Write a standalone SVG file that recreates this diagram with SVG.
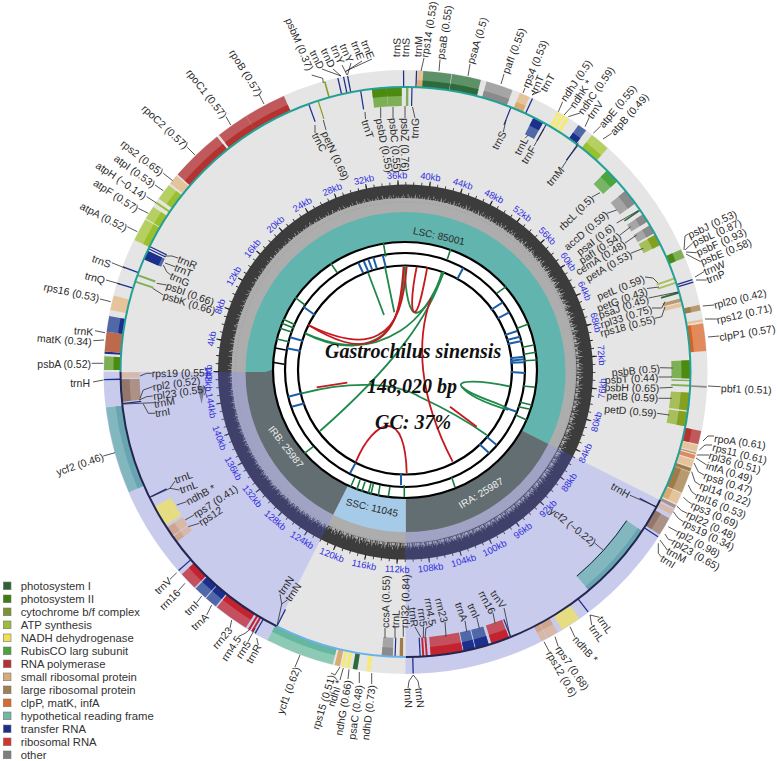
<svg xmlns="http://www.w3.org/2000/svg" width="777" height="761" viewBox="0 0 777 761">
<style>
circle{cx:405.5px;cy:372px;fill:none}
.o{r:293.25px;stroke-width:16.5px}.od{r:288.5px;stroke-width:7px}.i{r:275.5px;stroke-width:19px}.id{r:280.5px;stroke-width:9px}
.psi{stroke:#5f9168}.psiD{stroke:#2d6b3c}.psii{stroke:#7daf55}.psiiD{stroke:#4c8a10}.cyt{stroke:#a6bf5a}.cytD{stroke:#84a01e}.atp{stroke:#b5cf60}.atpD{stroke:#9bc02e}
.ndh{stroke:#f3ea7a}.ndhI{stroke:#e6dc82}.rub{stroke:#76b564}.rubD{stroke:#4aa53c}.pol{stroke:#c0595c}.polD{stroke:#b5322f}.sm{stroke:#e6c49b}.smD{stroke:#d9ab72}.smI{stroke:#d8b8a6}.smID{stroke:#cfa590}
.lg{stroke:#b89a70}.lgD{stroke:#a07b45}.lgI{stroke:#ac9186}.lgID{stroke:#94776a}.clp{stroke:#e38a5d}.clpD{stroke:#d8621f}.mat{stroke:#bd6a4c}.ycf{stroke:#8ccab5}.ycfD{stroke:#67b69f}.ycfI{stroke:#82b7c0}.ycfID{stroke:#68a5b1}
.t{stroke:#5068a8}.tD{stroke:#1c2f8d}.r{stroke:#c4505e}.rD{stroke:#c4222f}.ot{stroke:#a5a5a5}.otD{stroke:#8a8a8a}
text{font-family:"Liberation Sans",Arial,sans-serif;fill:#2b2b2b;font-size:10.5px;dominant-baseline:central}
.e{text-anchor:end}
.kb{fill:#3030e0;font-size:9.4px;text-anchor:middle}
.title{font-family:"Liberation Serif","Times New Roman",serif;font-weight:bold;font-style:italic;font-size:20px;fill:#111;dominant-baseline:auto}
.reg{font-size:10px;text-anchor:middle}
.lgd{font-size:11.3px;fill:#333}
.lr{fill:none;stroke:#2b2b2b;stroke-width:.8}
.gt{stroke:#1a7a3f;stroke-width:1.6}.bt{stroke:#1f5ea8;stroke-width:2}.kt{stroke:#000;stroke-width:1.6}
.gl{fill:none;stroke:#1f8a4c;stroke-width:1.8}.rl{fill:none;stroke:#c8181e;stroke-width:1.8}
</style>
<circle id="backdrop" r="302" style="fill:#e5e5e5"/>
<g id="gc-rings">
<circle r="187.5" style="fill:#3c3c3c"/>
<circle r="172.5" style="fill:#adadad;cx:404px;cy:370.5px"/>
<circle r="172.5" stroke="#adadad" stroke-width="2.5" stroke-dasharray="1.2 .7 .6 1.6 2 .7 .9 1.1 3 .6"/>
<circle r="174.5" stroke="#adadad" stroke-width="2.5" stroke-dasharray=".7 1.9 .6 2.6 1.1 1.7 .5 4"/>
<circle r="176.5" stroke="#adadad" stroke-width="2.5" stroke-dasharray=".5 4.3 .8 7 .6 3.2 .5 9"/>
<circle r="170" stroke="#8f8f8f" stroke-width=".6" stroke-dasharray="1 2"/>
<circle r="188.5" stroke="#222" stroke-width="3" pathLength="148.02" stroke-dasharray=".1 .9" transform="rotate(180 405.5 372)"/>
<circle r="189.5" stroke="#222" stroke-width="5" pathLength="148.02" stroke-dasharray=".14 3.86" transform="rotate(180 405.5 372)"/>
</g>
<g id="ir-sectors" fill="#888ffc" fill-opacity=".3">
<path d="M675.3,507.7A302,302 0 0 1 405.5,674V531A159,159 0 0 0 547.5,443.4Z"/>
<path d="M268.9,641.3A302,302 0 0 1 103.5,372H246.5A159,159 0 0 0 333.6,513.8Z"/>
</g>
<circle r="181.5" stroke="#20205a" stroke-opacity=".35" stroke-width="12" pathLength="360" stroke-dasharray="63.2 360" stroke-dashoffset="-26.7"/>
<circle r="181.5" stroke="#20205a" stroke-opacity=".35" stroke-width="12" pathLength="360" stroke-dasharray="63.1 360" stroke-dashoffset="-116.9"/>
<g id="regions">
<circle r="140" stroke="#62b4ae" stroke-width="40" pathLength="360" stroke-dasharray="180 360" stroke-dashoffset="-180"/>
<circle r="140" stroke="#62b4ae" stroke-width="40" pathLength="360" stroke-dasharray="26.7 360"/>
<circle r="140" stroke="#636e72" stroke-width="40" pathLength="360" stroke-dasharray="63.2 360" stroke-dashoffset="-26.7"/>
<circle r="140" stroke="#a5cbe8" stroke-width="40" pathLength="360" stroke-dasharray="27 360" stroke-dashoffset="-89.9"/>
<circle r="140" stroke="#636e72" stroke-width="40" pathLength="360" stroke-dasharray="63.1 360" stroke-dashoffset="-116.9"/>
</g>
<g id="inner-rings" stroke="#000" stroke-width="2.2">
<ellipse cx="405" cy="370" rx="132" ry="128" fill="#fff"/>
<ellipse cx="405" cy="370" rx="120" ry="117" fill="#fff"/>
<ellipse cx="405" cy="370" rx="107" ry="104.5" fill="#fff"/>
</g>
<g id="ring-ticks">
<path class="gt" d="M383.3,242.3L385.7,256.7M330.7,263.3L337.3,272.7M295,297.3L305,305M283.3,319.3L295.7,325M281.7,323.3L294.3,328.3M280,328.3L292.3,332.3M276.7,339L289,341.7M450.7,249L447.3,259.3M506,286.7L496.7,293.3M528.3,324L517.3,328.3M534,345L522.3,347.3M535.7,352.3L524,354.3M536.7,360L524,360.7M535,387.3L523.3,386M531.7,405L520,402.3M530,409.3L518.3,406.7M526.7,420L515.7,415M455,487.3L451.7,477.3M404.3,497.3L404.3,485M313.3,446.7L304.3,453.3M355,477L350.7,486.7M360,480L356.7,490M365,481.7L361.7,491.7M371,483.3L368.3,493.3M373.3,484L371,494M380,485L378.3,495.7M390,486.7L388.3,496.7"/>
<path class="kt" d="M274,347.7L285.7,350M272.3,362.3L284.3,364.3"/>
<path class="bt" d="M382.7,255L385.7,266.7M373.3,257.3L376.7,268.3M368.3,259.3L372.3,270M363.7,261L368.3,271.7M358.3,262.7L363.3,273.3M303.3,306.7L315,315M290,337.3L303.3,341M286.7,348.3L301,351M463.3,267.7L457.3,279M502.7,302.3L490.7,310M509.3,312.3L497.7,318.3M517.3,331L505,335M520,336.7L506.7,340M521.7,341L507.3,344M524.3,356.7L510,358.3M524.3,359.3L510,360.7M524.3,362.3L510,362.7M525,373L510.7,372M516.7,411.7L504,407.3M496.7,445L486.7,436.7M489.3,453.3L479.3,444M401,485L401,473.3M301.7,393.3L288.3,396.7M305,403.3L291.7,406.7M355.7,462.7L350,473.3"/>
</g>
<g id="links">
<path class="gl" d="M368.3,273.3L384,315M385,266.7L394.3,312.3"/>
<path class="gl" d="M305,333.3C335,346 350,346 365,343.3C390,338 403,315 404.3,265.7"/>
<path class="gl" d="M305,333.3C335,350 370,350 400,331C425,315 437,290 444,271.7"/>
<path class="gl" d="M405,267C405,295 410,313 416,313C424,313 437,290 442,272"/>
<path class="gl" d="M443.3,271.7C430,315 395,365 320,431"/>
<path class="gl" d="M301.7,393.3C350,381 395,382 420,397C450,411 470,423 486.7,435"/>
<path class="gl" d="M510,386.5C480,380 455,380 462,387C470,395 495,402 505,407"/>
<path class="gl" d="M462,387C470,398 495,406 508,410"/>
<path class="rl" d="M308.3,325C335,338 360,345 378,335C398,325 404,300 406.7,266.7"/>
<path class="rl" d="M308.3,325C335,341 355,348 372,342C396,333 401,305 403.5,267"/>
<path class="rl" d="M416.7,266.7C411,295 411,312 414.5,312C419,312 424,285 427.3,267.3"/>
<path class="rl" d="M431,298C416,340 418,395 452.7,461.7"/>
<path class="rl" d="M316.7,387.3L347.3,382.7"/>
<path class="rl" d="M450,406.7L476.7,426.7"/>
<path class="rl" d="M356,461.7C365,440 378,426 388,426C400,426 406,445 406.7,473"/>
</g>
<g id="genes">
<circle id="trnS_a" pathLength="360" class="o tD" stroke-dasharray=".25 360" stroke-dashoffset="-269.5"/>
<circle id="trnM_a" pathLength="360" class="o tD" stroke-dasharray=".25 360" stroke-dashoffset="-272"/>
<g id="rps14"><circle pathLength="360" class="o sm" stroke-dasharray="1.1 360" stroke-dashoffset="-272.3"/><circle pathLength="360" class="od smD" stroke-dasharray="1.1 360" stroke-dashoffset="-272.3"/></g>
<g id="psaB"><circle pathLength="360" class="o psi" stroke-dasharray="5.4 360" stroke-dashoffset="-273.4"/><circle pathLength="360" class="od psiD" stroke-dasharray="5.4 360" stroke-dashoffset="-273.4"/></g>
<g id="psaA"><circle pathLength="360" class="o psi" stroke-dasharray="5.6 360" stroke-dashoffset="-278.9"/><circle pathLength="360" class="od psiD" stroke-dasharray="5.6 360" stroke-dashoffset="-278.9"/></g>
<g id="pafI"><circle pathLength="360" class="o ot" stroke-dasharray="5.2 360" stroke-dashoffset="-285.6"/><circle pathLength="360" class="od otD" stroke-dasharray="5.2 360" stroke-dashoffset="-285.6"/></g>
<g id="rps4"><circle pathLength="360" class="o sm" stroke-dasharray="2 360" stroke-dashoffset="-292.3"/><circle pathLength="360" class="od smD" stroke-dasharray="2 360" stroke-dashoffset="-292.3"/></g>
<circle id="trnT_a" pathLength="360" class="o tD" stroke-dasharray=".25 360" stroke-dashoffset="-294.8"/>
<circle id="trnS_b" pathLength="360" class="i tD" stroke-dasharray=".25 360" stroke-dashoffset="-291.6"/>
<g id="trnL_a"><circle pathLength="360" class="i t" stroke-dasharray="2.2 360" stroke-dashoffset="-296.7"/><circle pathLength="360" class="id tD" stroke-dasharray="2.2 360" stroke-dashoffset="-296.7"/></g>
<circle id="trnF" pathLength="360" class="i tD" stroke-dasharray=".25 360" stroke-dashoffset="-299.5"/>
<circle id="ndhJ" pathLength="360" class="o ndh" stroke-dasharray=".7 360" stroke-dashoffset="-300.3"/>
<circle id="ndhK" pathLength="360" class="o ndh" stroke-dasharray=".7 360" stroke-dashoffset="-301.2"/>
<circle id="ndhC" pathLength="360" class="o ndh" stroke-dasharray=".7 360" stroke-dashoffset="-302.2"/>
<g id="trnV_a"><circle pathLength="360" class="o t" stroke-dasharray="1.8 360" stroke-dashoffset="-305"/><circle pathLength="360" class="od tD" stroke-dasharray="1.8 360" stroke-dashoffset="-305"/></g>
<circle id="trnM_b" pathLength="360" class="i tD" stroke-dasharray=".25 360" stroke-dashoffset="-307.1"/>
<g id="atpE"><circle pathLength="360" class="o atp" stroke-dasharray="1 360" stroke-dashoffset="-308.2"/><circle pathLength="360" class="od atpD" stroke-dasharray="1 360" stroke-dashoffset="-308.2"/></g>
<g id="atpB"><circle pathLength="360" class="o atp" stroke-dasharray="2.9 360" stroke-dashoffset="-309.2"/><circle pathLength="360" class="od atpD" stroke-dasharray="2.9 360" stroke-dashoffset="-309.2"/></g>
<g id="rbcL"><circle pathLength="360" class="i rub" stroke-dasharray="3 360" stroke-dashoffset="-315"/><circle pathLength="360" class="id rubD" stroke-dasharray="3 360" stroke-dashoffset="-315"/></g>
<g id="accD"><circle pathLength="360" class="i ot" stroke-dasharray="3.2 360" stroke-dashoffset="-320.5"/><circle pathLength="360" class="id otD" stroke-dasharray="3.2 360" stroke-dashoffset="-320.5"/></g>
<circle id="psaI" pathLength="360" class="i psiD" stroke-dasharray=".35 360" stroke-dashoffset="-325.2"/>
<g id="pafI_b"><circle pathLength="360" class="i ot" stroke-dasharray="1.7 360" stroke-dashoffset="-326.4"/><circle pathLength="360" class="id otD" stroke-dasharray="1.7 360" stroke-dashoffset="-326.4"/></g>
<g id="cemA"><circle pathLength="360" class="i ot" stroke-dasharray="1.8 360" stroke-dashoffset="-329"/><circle pathLength="360" class="id otD" stroke-dasharray="1.8 360" stroke-dashoffset="-329"/></g>
<g id="petA"><circle pathLength="360" class="i cyt" stroke-dasharray="2.3 360" stroke-dashoffset="-331.2"/><circle pathLength="360" class="id cytD" stroke-dasharray="2.3 360" stroke-dashoffset="-331.2"/></g>
<g id="psbJLFE"><circle pathLength="360" class="o psii" stroke-dasharray="1.7 360" stroke-dashoffset="-336"/><circle pathLength="360" class="od psiiD" stroke-dasharray="1.7 360" stroke-dashoffset="-336"/></g>
<circle id="trnW" pathLength="360" class="o tD" stroke-dasharray=".25 360" stroke-dashoffset="-342"/>
<circle id="trnP" pathLength="360" class="o tD" stroke-dasharray=".25 360" stroke-dashoffset="-342.5"/>
<circle id="petL" pathLength="360" class="i cyt" stroke-dasharray=".4 360" stroke-dashoffset="-340.6"/>
<circle id="petG" pathLength="360" class="i cyt" stroke-dasharray=".4 360" stroke-dashoffset="-341.5"/>
<circle id="psaJ" pathLength="360" class="i psiD" stroke-dasharray=".4 360" stroke-dashoffset="-343.6"/>
<circle id="rpl33" pathLength="360" class="i lg" stroke-dasharray=".7 360" stroke-dashoffset="-345"/>
<circle id="rps18" pathLength="360" class="i sm" stroke-dasharray=".8 360" stroke-dashoffset="-345.9"/>
<g id="rpl20"><circle pathLength="360" class="o lg" stroke-dasharray="1.1 360" stroke-dashoffset="-347.1"/><circle pathLength="360" class="od lgD" stroke-dasharray="1.1 360" stroke-dashoffset="-347.1"/></g>
<circle id="rps12_a" pathLength="360" class="o sm" stroke-dasharray=".5 360" stroke-dashoffset="-349.9"/>
<g id="clpP1"><circle pathLength="360" class="o clp" stroke-dasharray="5.3 360" stroke-dashoffset="-350.7"/><circle pathLength="360" class="od clpD" stroke-dasharray="5.3 360" stroke-dashoffset="-350.7" style="stroke-width:4px;r:287px"/></g>
<g id="psbB"><circle pathLength="360" class="i psii" stroke-dasharray="2.4 360" stroke-dashoffset="-357.6"/><circle pathLength="360" class="id psiiD" stroke-dasharray="2.4 360" stroke-dashoffset="-357.6"/><circle pathLength="360" class="i psii" stroke-dasharray="1.3 360"/><circle pathLength="360" class="id psiiD" stroke-dasharray="1.3 360"/></g>
<circle id="psbT" pathLength="360" class="i psii" stroke-dasharray=".3 360" stroke-dashoffset="-1.6"/>
<circle id="psbH" pathLength="360" class="i psii" stroke-dasharray=".4 360" stroke-dashoffset="-2.6"/>
<circle id="pbf1" pathLength="360" class="o otD" stroke-dasharray=".3 360" stroke-dashoffset="-2.7"/>
<g id="petB"><circle pathLength="360" class="i cyt" stroke-dasharray="3.6 360" stroke-dashoffset="-4.2"/><circle pathLength="360" class="id cytD" stroke-dasharray="3.6 360" stroke-dashoffset="-4.2"/></g>
<g id="petD"><circle pathLength="360" class="i cyt" stroke-dasharray="2.9 360" stroke-dashoffset="-8.1"/><circle pathLength="360" class="id cytD" stroke-dasharray="2.9 360" stroke-dashoffset="-8.1"/></g>
<g id="rpoA"><circle pathLength="360" class="o pol" stroke-dasharray="2.6 360" stroke-dashoffset="-11.3"/><circle pathLength="360" class="od polD" stroke-dasharray="2.6 360" stroke-dashoffset="-11.3"/></g>
<circle id="rps11" pathLength="360" class="o sm" stroke-dasharray="1.2 360" stroke-dashoffset="-14.1"/>
<circle id="rpl36" pathLength="360" class="o lg" stroke-dasharray=".3 360" stroke-dashoffset="-15.5"/>
<circle id="infA" pathLength="360" class="o clp" stroke-dasharray=".8 360" stroke-dashoffset="-16"/>
<circle id="rps8" pathLength="360" class="o sm" stroke-dasharray="1.4 360" stroke-dashoffset="-17"/>
<circle id="rpl14" pathLength="360" class="o lgD" stroke-dasharray=".7 360" stroke-dashoffset="-18.6"/>
<g id="rpl16"><circle pathLength="360" class="o lg" stroke-dasharray="4.2 360" stroke-dashoffset="-19.4"/><circle pathLength="360" class="od lgD" stroke-dasharray="4.2 360" stroke-dashoffset="-19.4"/></g>
<g id="rps3"><circle pathLength="360" class="o sm" stroke-dasharray="2.1 360" stroke-dashoffset="-23.8"/><circle pathLength="360" class="od smD" stroke-dasharray="2.1 360" stroke-dashoffset="-23.8"/></g>
<circle id="rpl22" pathLength="360" class="o lgI" stroke-dasharray=".6 360" stroke-dashoffset="-26.2"/>
<circle id="rps19" pathLength="360" class="o smI" stroke-dasharray="1 360" stroke-dashoffset="-27.2"/>
<g id="rpl2"><circle pathLength="360" class="o lgI" stroke-dasharray="3.6 360" stroke-dashoffset="-29"/><circle pathLength="360" class="od lgID" stroke-dasharray="3.6 360" stroke-dashoffset="-29"/></g>
<circle id="trnM_c" pathLength="360" class="o tD" stroke-dasharray=".25 360" stroke-dashoffset="-33"/>
<circle id="trnH" pathLength="360" class="i tD" stroke-dasharray=".25 360" stroke-dashoffset="-28.2"/>
<g id="ycf2_a"><circle pathLength="360" class="i ycfI" stroke-dasharray="16.1 360" stroke-dashoffset="-33.9"/><circle pathLength="360" class="id ycfID" stroke-dasharray="16.1 360" stroke-dashoffset="-33.9" style="stroke-width:5px;r:282.5px"/><circle pathLength="360" stroke="#14283a" stroke-width="1" style="r:266.5px" stroke-dasharray="16.1 360" stroke-dashoffset="-33.9"/></g>
<circle id="trnL_b" pathLength="360" class="o tD" stroke-dasharray=".25 360" stroke-dashoffset="-52.6"/>
<circle id="ndhB_a" pathLength="360" class="o ndhI" stroke-dasharray="3.9 360" stroke-dashoffset="-54.8"/>
<g id="rps7_a"><circle pathLength="360" class="o smI" stroke-dasharray="2.2 360" stroke-dashoffset="-59.7"/><circle pathLength="360" class="od smID" stroke-dasharray="2.2 360" stroke-dashoffset="-59.7"/></g>
<g id="rps12_b"><circle pathLength="360" class="o smI" stroke-dasharray="1.2 360" stroke-dashoffset="-62"/><circle pathLength="360" class="od smID" stroke-dasharray="1.2 360" stroke-dashoffset="-62"/></g>
<circle id="trnV_b" pathLength="360" class="i tD" stroke-dasharray=".25 360" stroke-dashoffset="-68.2"/>
<g id="rrn16_a"><circle pathLength="360" class="i r" stroke-dasharray="3.7 360" stroke-dashoffset="-68.7"/><circle pathLength="360" class="id rD" stroke-dasharray="3.7 360" stroke-dashoffset="-68.7"/></g>
<g id="trnI_a"><circle pathLength="360" class="i t" stroke-dasharray="2.7 360" stroke-dashoffset="-73"/><circle pathLength="360" class="id tD" stroke-dasharray="2.7 360" stroke-dashoffset="-73"/></g>
<g id="trnA_a"><circle pathLength="360" class="i t" stroke-dasharray="2.3 360" stroke-dashoffset="-75.9"/><circle pathLength="360" class="id tD" stroke-dasharray="2.3 360" stroke-dashoffset="-75.9"/></g>
<g id="rrn23_a"><circle pathLength="360" class="i r" stroke-dasharray="6.5 360" stroke-dashoffset="-78.4"/><circle pathLength="360" class="id rD" stroke-dasharray="6.5 360" stroke-dashoffset="-78.4"/></g>
<circle id="rrn45_a" pathLength="360" class="i rD" stroke-dasharray=".4 360" stroke-dashoffset="-85.5"/>
<circle id="rrn5_a" pathLength="360" class="i rD" stroke-dasharray=".4 360" stroke-dashoffset="-86.2"/>
<circle id="trnR_a" pathLength="360" class="i tD" stroke-dasharray=".25 360" stroke-dashoffset="-86.9"/>
<circle id="trnN_a" pathLength="360" class="o tD" stroke-dasharray=".25 360" stroke-dashoffset="-88.4"/>
<circle id="rpl32" pathLength="360" class="i lgD" stroke-dasharray=".7 360" stroke-dashoffset="-90.5"/>
<circle id="trnL_c" pathLength="360" class="i tD" stroke-dasharray=".25 360" stroke-dashoffset="-92"/>
<g id="ccsA"><circle pathLength="360" class="i ot" stroke-dasharray="2.2 360" stroke-dashoffset="-92.6"/><circle pathLength="360" class="id otD" stroke-dasharray="2.2 360" stroke-dashoffset="-92.6"/></g>
<circle id="ndhD" pathLength="360" class="o ndh" stroke-dasharray=".8 360" stroke-dashoffset="-96.7"/>
<circle id="psaC" pathLength="360" class="o psiD" stroke-dasharray=".9 360" stroke-dashoffset="-99.2"/>
<circle id="ndhG" pathLength="360" class="o ndh" stroke-dasharray=".7 360" stroke-dashoffset="-100.7"/>
<circle id="ndhI" pathLength="360" class="o ndh" stroke-dasharray=".6 360" stroke-dashoffset="-101.7"/>
<circle id="rps15" pathLength="360" class="o smD" stroke-dasharray="1 360" stroke-dashoffset="-102.6"/>
<g id="ycf1"><circle pathLength="360" class="o ycf" stroke-dasharray="13.2 360" stroke-dashoffset="-104"/><circle pathLength="360" class="od ycfD" stroke-dasharray="13.2 360" stroke-dashoffset="-104"/></g>
<circle id="trnN_b" pathLength="360" class="i tD" stroke-dasharray=".25 360" stroke-dashoffset="-116.7"/>
<circle id="trnR_b" pathLength="360" class="o tD" stroke-dasharray=".25 360" stroke-dashoffset="-119.8"/>
<circle id="rrn5_b" pathLength="360" class="o rD" stroke-dasharray=".4 360" stroke-dashoffset="-120.4"/>
<circle id="rrn45_b" pathLength="360" class="o rD" stroke-dasharray=".4 360" stroke-dashoffset="-121.1"/>
<g id="rrn23_b"><circle pathLength="360" class="o r" stroke-dasharray="6.7 360" stroke-dashoffset="-122"/><circle pathLength="360" class="od rD" stroke-dasharray="6.7 360" stroke-dashoffset="-122"/></g>
<g id="trnA_b"><circle pathLength="360" class="o t" stroke-dasharray="2.4 360" stroke-dashoffset="-129"/><circle pathLength="360" class="od tD" stroke-dasharray="2.4 360" stroke-dashoffset="-129"/></g>
<g id="trnI_b"><circle pathLength="360" class="o t" stroke-dasharray="2.5 360" stroke-dashoffset="-131.6"/><circle pathLength="360" class="od tD" stroke-dasharray="2.5 360" stroke-dashoffset="-131.6"/></g>
<g id="rrn16_b"><circle pathLength="360" class="o r" stroke-dasharray="3.5 360" stroke-dashoffset="-134.4"/><circle pathLength="360" class="od rD" stroke-dasharray="3.5 360" stroke-dashoffset="-134.4"/></g>
<circle id="trnV_c" pathLength="360" class="o tD" stroke-dasharray=".25 360" stroke-dashoffset="-138.7"/>
<g id="rps12_c"><circle pathLength="360" class="i smI" stroke-dasharray="1.3 360" stroke-dashoffset="-143.4"/><circle pathLength="360" class="id smID" stroke-dasharray="1.3 360" stroke-dashoffset="-143.4"/></g>
<g id="rps7_b"><circle pathLength="360" class="i smI" stroke-dasharray="2 360" stroke-dashoffset="-144.9"/><circle pathLength="360" class="id smID" stroke-dasharray="2 360" stroke-dashoffset="-144.9"/></g>
<circle id="ndhB_b" pathLength="360" class="i ndhI" stroke-dasharray="4.4 360" stroke-dashoffset="-147.4"/>
<circle id="trnL_d" pathLength="360" class="i tD" stroke-dasharray=".25 360" stroke-dashoffset="-153.8"/>
<g id="ycf2_b"><circle pathLength="360" class="o ycfI" stroke-dasharray="16.7 360" stroke-dashoffset="-156.5"/><circle pathLength="360" class="od ycfID" stroke-dasharray="16.7 360" stroke-dashoffset="-156.5"/></g>
<circle id="trnM_d" pathLength="360" class="i tD" stroke-dasharray=".25 360" stroke-dashoffset="-173.5"/>
<g id="rpl2_b"><circle pathLength="360" class="i lgI" stroke-dasharray="4.5 360" stroke-dashoffset="-174"/><circle pathLength="360" class="id lgID" stroke-dasharray="4.5 360" stroke-dashoffset="-174"/></g>
<circle id="rps19_b" pathLength="360" class="i smI" stroke-dasharray="1.1 360" stroke-dashoffset="-178.8"/>
<circle id="trnH_b" pathLength="360" class="o tD" stroke-dasharray=".25 360" stroke-dashoffset="-178.4"/>
<g id="psbA"><circle pathLength="360" class="o psii" stroke-dasharray="2.6 360" stroke-dashoffset="-180.4"/><circle pathLength="360" class="od psiiD" stroke-dasharray="2.6 360" stroke-dashoffset="-180.4"/></g>
<circle id="trnK_x" pathLength="360" class="o tD" stroke-dasharray=".4 360" stroke-dashoffset="-183.5"/>
<circle id="matK" pathLength="360" class="o mat" stroke-dasharray="3.8 360" stroke-dashoffset="-183.9"/>
<g id="trnK"><circle pathLength="360" class="o t" stroke-dasharray="3 360" stroke-dashoffset="-187.7"/><circle pathLength="360" class="od tD" stroke-dasharray="3 360" stroke-dashoffset="-187.7" style="r:287.5px;stroke-width:5px"/></g>
<circle id="rps16" pathLength="360" class="o sm" stroke-dasharray="2.8 360" stroke-dashoffset="-191.9"/>
<circle id="trnQ" pathLength="360" class="o tD" stroke-dasharray=".25 360" stroke-dashoffset="-197"/>
<circle id="trnS_c" pathLength="360" class="o tD" stroke-dasharray=".25 360" stroke-dashoffset="-200.3"/>
<circle id="psbK" pathLength="360" class="i psii" stroke-dasharray=".4 360" stroke-dashoffset="-198.3"/>
<circle id="psbI" pathLength="360" class="i psii" stroke-dasharray=".4 360" stroke-dashoffset="-199.7"/>
<g id="trnG_a"><circle pathLength="360" class="i t" stroke-dasharray="1.9 360" stroke-dashoffset="-203.3"/><circle pathLength="360" class="id tD" stroke-dasharray="1.9 360" stroke-dashoffset="-203.3" style="r:277px;stroke-width:16px"/></g>
<circle id="trnT_b" pathLength="360" class="i tD" stroke-dasharray=".25 360" stroke-dashoffset="-205.5"/>
<circle id="trnR_c" pathLength="360" class="i tD" stroke-dasharray=".25 360" stroke-dashoffset="-206"/>
<g id="atpA"><circle pathLength="360" class="o atp" stroke-dasharray="4.4 360" stroke-dashoffset="-206"/><circle pathLength="360" class="od atpD" stroke-dasharray="4.4 360" stroke-dashoffset="-206"/></g>
<g id="atpF"><circle pathLength="360" class="o atp" stroke-dasharray="2.6 360" stroke-dashoffset="-210.6"/><circle pathLength="360" class="od atpD" stroke-dasharray="2.6 360" stroke-dashoffset="-210.6"/></g>
<circle id="atpH" pathLength="360" class="o atpD" stroke-dasharray=".4 360" stroke-dashoffset="-214"/>
<g id="atpI"><circle pathLength="360" class="o atp" stroke-dasharray="3.2 360" stroke-dashoffset="-215.1"/><circle pathLength="360" class="od atpD" stroke-dasharray="3.2 360" stroke-dashoffset="-215.1"/></g>
<circle id="rps2" pathLength="360" class="o sm" stroke-dasharray="1.9 360" stroke-dashoffset="-218.7"/>
<g id="rpoC2"><circle pathLength="360" class="o pol" stroke-dasharray="10.4 360" stroke-dashoffset="-220.9"/><circle pathLength="360" class="od polD" stroke-dasharray="10.4 360" stroke-dashoffset="-220.9"/></g>
<g id="rpoC1"><circle pathLength="360" class="o pol" stroke-dasharray="6.3 360" stroke-dashoffset="-231.8"/><circle pathLength="360" class="od polD" stroke-dasharray="6.3 360" stroke-dashoffset="-231.8"/></g>
<g id="rpoB"><circle pathLength="360" class="o pol" stroke-dasharray="8.1 360" stroke-dashoffset="-238.1"/><circle pathLength="360" class="od polD" stroke-dasharray="8.1 360" stroke-dashoffset="-238.1"/></g>
<circle id="trnC" pathLength="360" class="i tD" stroke-dasharray=".25 360" stroke-dashoffset="-250"/>
<circle id="petN" pathLength="360" class="i cytD" stroke-dasharray=".25 360" stroke-dashoffset="-252"/>
<circle id="psbM" pathLength="360" class="o cytD" stroke-dasharray=".3 360" stroke-dashoffset="-254.3"/>
<circle id="trnD" pathLength="360" class="o tD" stroke-dasharray=".25 360" stroke-dashoffset="-256.9"/>
<circle id="trnY" pathLength="360" class="o tD" stroke-dasharray=".25 360" stroke-dashoffset="-258"/>
<circle id="trnE" pathLength="360" class="o tD" stroke-dasharray=".25 360" stroke-dashoffset="-258.8"/>
<circle id="trnT_c" pathLength="360" class="i tD" stroke-dasharray=".25 360" stroke-dashoffset="-260.8"/>
<g id="psbD"><circle pathLength="360" class="i psii" stroke-dasharray="3 360" stroke-dashoffset="-263.2"/><circle pathLength="360" class="id psiiD" stroke-dasharray="3 360" stroke-dashoffset="-263.2"/></g>
<g id="psbC"><circle pathLength="360" class="i psii" stroke-dasharray="3 360" stroke-dashoffset="-266.2"/><circle pathLength="360" class="id psiiD" stroke-dasharray="3 360" stroke-dashoffset="-266.2"/></g>
<circle id="psbZ" pathLength="360" class="i psii" stroke-dasharray=".5 360" stroke-dashoffset="-270.1"/>
<circle id="trnG_b" pathLength="360" class="i tD" stroke-dasharray=".25 360" stroke-dashoffset="-271.2"/>
</g>
<g id="backbone">
<circle r="285" stroke="#24a097" stroke-width="2" pathLength="360" stroke-dasharray="180 360" stroke-dashoffset="-180"/>
<circle r="285" stroke="#24a097" stroke-width="2" pathLength="360" stroke-dasharray="26.7 360"/>
<circle r="285" stroke="#23264f" stroke-width="2" pathLength="360" stroke-dasharray="63.2 360" stroke-dashoffset="-26.7"/>
<circle r="285" stroke="#6cb2ea" stroke-width="2" pathLength="360" stroke-dasharray="27 360" stroke-dashoffset="-89.9"/>
<circle r="285" stroke="#23264f" stroke-width="2" pathLength="360" stroke-dasharray="63.1 360" stroke-dashoffset="-116.9"/>
</g>
<polygon id="direction" points="197.3,386.7 205,386.7 201.7,404" fill="#7a7f9a"/>
<g id="connectors" class="lr">
<path d="M421,71L424,58M439,71L440,59.5M468,76L470,64M501,84L504,74M523,93L525,88M532,95L535,92M532,95L541,91"/>
<path d="M558.3,111.7L562.7,101.7M564,115L571.7,106.7M568.3,116.7L580,113M585,126.7L589.3,117.3M593.3,133.3L600.7,126M603,139L611.7,133.3"/>
<path d="M506,120L503.3,132M528.3,135L525,138.3M544,129L534,146M578.3,142.7L561.7,168.3M600,192.7L592,197M616.7,210L607,213.3M638,210.7L616.7,223M630.7,226.7L620,235M636.7,235L625,243M643.3,248.3L630.7,253.3"/>
<path d="M684,250L685,236L688,234M685,250L692.7,243M686,252L696.7,252.7M686,254L700.7,261.7M695,277L704,271.7M696,280L706.7,280M702.7,306L714,305M705,319L716.7,319M708,337L719.3,336"/>
<path d="M658,283L653,278L645,277M659,287L647,288.5M678,292L648.5,298M665,301.7L661.7,308L652,308M665,306.7L661.7,316.7L655,318.3M672.7,368L660,367.7M672,377L658.5,377M672.7,387.3L659.5,388M671.7,398.3L658.5,398.3M669.3,415L657,413.3M708,386L720.7,386.7"/>
<path d="M703,441L708,436L714,436M699.3,450L705,445L712,445M696.7,455L709,455M696,458L702,462L706.7,465M694,463L698.3,471.7L704,475M691.7,471.7L695,481.7L700,485M688.3,485L691.7,491.7L696,495M683.3,497.3L688.3,501.7L691.7,504M676.7,506L681.7,510.7L687.3,513.3M673.3,511.7L678.3,518.3L683.3,521.7M668.3,526.7L677.3,531.7M665,534L668.3,539.3L672.7,540.7M660,540L667.3,550M658.3,543.3L658.3,553.3L661.7,557.3"/>
<path d="M630,495.3L656.7,506.7M603,550L595,543.3M590,615L599.5,617.3M590,615L591.7,625M570,626.7L575,637.3M555,636.7L558.3,646.7M544,641.7L549.3,651.7"/>
<path d="M510,636L504,608M495,623.3L493,613M479.3,628.3L476.7,617.3M466.7,631.7L465,620.7M446,636.7L445,621.7M425,638L426,628L433,625M423.3,638L423.5,626.7M420.7,637L415,627M403.3,636.7L403.3,627M395,638L395,627M385,638L385,628M413.3,675L409,681L408,688M413.3,675L418,681L419.3,688"/>
<path d="M340,667L335,675L331,673M343.3,668L340,680M349,669.3L348,679M359.3,672L359.3,683M371.7,673L371.7,684M300,655L295,667M256.7,638L258.3,645M255,628.3L248,641.7M249.3,630L245,633.3L238.3,636.7M231.7,620L230,628.3M211.7,605L206.7,615M201.7,596L196.7,602.7M185,583.3L178.3,590.7M176.7,572.7L170,579.3"/>
<path d="M277,626L281.7,604L280,594M281.7,604L287.3,600M115,452.7L103.3,456M151.7,496.7L170,488.3L175,481M170,488.3L179.5,490M176.7,505L186.7,501.7M185,520L194,515M188.3,526.7L199.3,523.3"/>
<path d="M140,398.3L143.3,390L152.7,386.7M139,400L146.7,396.7L152.7,396M123.3,404L154,402.7M143.3,404L148.3,413.3L155,413.3M93,382L103.5,380M140,376L146.7,373.3L151.7,373.3M91.7,363.3L103.3,363.3M93.3,340.7L104,340M95,330.7L105,332.7M100,299L110.7,301.7"/>
<path d="M106,280L120,284M111.7,262.7L125,268M127.3,226.7L137.3,231.7M138.3,208.3L148.3,213.3M146.7,196.7L156,202.7M155,185L163.3,190.7M163.3,173.3L172.7,180.7M187.3,147.3L195,155M226,116.7L230.7,125M259.3,95L264,104M311.7,75L322.7,78.3L323.3,83M341,76L322,69M341,76L333,69M347,75L342,65M347.5,75L351,63M345,72L362,61M346,71L372,59"/>
<path d="M165,256L172,256L178,258M165,263L175,266.7M163.3,265L166.7,271.7L170.7,275M156.7,283.3L166.7,285M152.7,288.3L163.3,295M315,125L315,133M323.3,120L326,130M365,112L365.5,119M380.7,107.3L380.7,118M393,107L393,118M405,106L405,118M412.5,107L415,118"/>
</g>
<g id="gene-labels">
<text transform="translate(396,57) rotate(-88)">trnS</text>
<text transform="translate(405,57) rotate(-88)">trnS</text>
<text transform="translate(417.3,57) rotate(-87)">trnM</text>
<text transform="translate(424.3,57.3) rotate(-81)">rps14 (0.53)</text>
<text transform="translate(440,59) rotate(-81)">psaB (0.55)</text>
<text transform="translate(470,63.3) rotate(-73)">psaA (0.5)</text>
<text transform="translate(505,73) rotate(-69)">pafI (0.55)</text>
<text transform="translate(525,87.3) rotate(-67.5)">rps4 (0.53)</text>
<text transform="translate(533.3,92.7) rotate(-67)">trnT</text>
<text transform="translate(542.7,90.7) rotate(-60)">trnT</text>
<text transform="translate(562.7,100) rotate(-56)">ndhJ (0.5)</text>
<text transform="translate(571.7,106.7) rotate(-56)">ndhK *</text>
<text transform="translate(580,113) rotate(-55)">ndhC (0.59)</text>
<text transform="translate(589.3,117.3) rotate(-54)">trnV</text>
<text transform="translate(600.7,126) rotate(-50)">atpE (0.55)</text>
<text transform="translate(611.7,133.3) rotate(-48)">atpB (0.49)</text>
<text class="e" transform="translate(503.3,131.7) rotate(-62)">trnS</text>
<text class="e" transform="translate(525,138) rotate(-63)">trnL</text>
<text class="e" transform="translate(533.3,146.7) rotate(-58)">trnF</text>
<text class="e" transform="translate(561.7,168) rotate(-50)">trnM</text>
<text class="e" transform="translate(591.7,196.7) rotate(-45)">rbcL (0.5)</text>
<text class="e" transform="translate(606.7,213) rotate(-40)">accD (0.59)</text>
<text class="e" transform="translate(613,226) rotate(-37)">psaI (0.6)</text>
<text class="e" transform="translate(620,235) rotate(-33)">pafI (0.54)</text>
<text class="e" transform="translate(625,243) rotate(-31)">cemA (0.48)</text>
<text class="e" transform="translate(630.7,253) rotate(-30)">petA (0.53)</text>
<text transform="translate(688.3,235) rotate(-25)">psbJ (0.53)</text>
<text transform="translate(692.7,243) rotate(-24)">psbL (0.87)</text>
<text transform="translate(696.7,252.7) rotate(-24)">psbF (0.93)</text>
<text transform="translate(700.7,261.7) rotate(-22)">psbE (0.58)</text>
<text transform="translate(704,271.7) rotate(-22)">trnW</text>
<text transform="translate(706.7,280) rotate(-21)">trnP</text>
<text transform="translate(714,305) rotate(-14)">rpl20 (0.42)</text>
<text transform="translate(716.7,320) rotate(-13)">rps12 (0.71)</text>
<text transform="translate(719.3,337) rotate(-9)">clpP1 (0.57)</text>
<text class="e" transform="translate(644,278) rotate(-22)">petL (0.59)</text>
<text class="e" transform="translate(647,290) rotate(-20)">petG (0.43)</text>
<text class="e" transform="translate(648.3,298) rotate(-19)">psaJ (0.45)</text>
<text class="e" transform="translate(651.7,308) rotate(-18)">rpl33 (0.75)</text>
<text class="e" transform="translate(655,318.5) rotate(-15)">rps18 (0.55)</text>
<text class="e" transform="translate(660,368) rotate(-5)">psbB (0.5)</text>
<text class="e" transform="translate(658.3,377) rotate(-3)">psbT (0.44)</text>
<text class="e" transform="translate(659.3,388) rotate(1)">psbH (0.65)</text>
<text class="e" transform="translate(658.3,398) rotate(3)">petB (0.59)</text>
<text class="e" transform="translate(656.7,413) rotate(5)">petD (0.59)</text>
<text transform="translate(721,388) rotate(2)">pbf1 (0.51)</text>
<text transform="translate(714.3,438) rotate(8)">rpoA (0.61)</text>
<text transform="translate(712.7,446.7) rotate(14)">rps11 (0.61)</text>
<text transform="translate(709,455) rotate(16)">rpl36 (0.51)</text>
<text transform="translate(706.7,465) rotate(17)">infA (0.49)</text>
<text transform="translate(704,475) rotate(18)">rps8 (0.47)</text>
<text transform="translate(700,485) rotate(19)">rpl14 (0.22)</text>
<text transform="translate(696,495) rotate(22)">rpl16 (0.53)</text>
<text transform="translate(691.7,504) rotate(24)">rps3 (0.69)</text>
<text transform="translate(687.3,513.3) rotate(26)">rpl22 (0.48)</text>
<text transform="translate(683.3,521.7) rotate(27)">rps19 (0.34)</text>
<text transform="translate(677.3,531.7) rotate(28)">rpl2 (0.98)</text>
<text transform="translate(672.7,540.7) rotate(30)">rpl23 (0.65)</text>
<text transform="translate(667.3,550) rotate(28)">trnM</text>
<text transform="translate(661.7,557.3) rotate(32)">trnI</text>
<text class="e" transform="translate(629.3,495) rotate(30)">trnH</text>
<text class="e" transform="translate(595,543.3) rotate(38)">ycf2 (~0.22)</text>
<text transform="translate(600,617.3) rotate(55)">trnL</text>
<text transform="translate(591.7,625.7) rotate(55)">trnL</text>
<text transform="translate(575,637.3) rotate(48)">ndhB *</text>
<text transform="translate(558.3,646.7) rotate(56)">rps7 (0.68)</text>
<text transform="translate(549.3,651.7) rotate(60)">rps12 (0.6)</text>
<text class="e" transform="translate(504,607) rotate(55)">trnV</text>
<text class="e" transform="translate(493,613) rotate(62)">rrn16</text>
<text class="e" transform="translate(477,617.5) rotate(65)">trnI</text>
<text class="e" transform="translate(465,620.7) rotate(70)">trnA</text>
<text class="e" transform="translate(445,622) rotate(75)">rrn23</text>
<text class="e" transform="translate(433,625) rotate(80)">rrn4.5</text>
<text class="e" transform="translate(424,626.7) rotate(82)">rrn5</text>
<text class="e" transform="translate(415,627) rotate(83)">trnR</text>
<text transform="translate(404,628) rotate(-88)">rpl32 (0.84)</text>
<text transform="translate(395,628) rotate(-88)">trnL</text>
<text transform="translate(385,628) rotate(-89)">ccsA (0.55)</text>
<text transform="translate(408.3,688) rotate(88)">trnN</text>
<text transform="translate(419.3,688) rotate(85)">trnN</text>
<text class="e" transform="translate(331.7,675) rotate(-73)">rps15 (0.51)</text>
<text class="e" transform="translate(339,680) rotate(-72)">ndhI *</text>
<text class="e" transform="translate(348,680) rotate(-80)">ndhG (0.66)</text>
<text class="e" transform="translate(359,685) rotate(-82)">psaC (0.48)</text>
<text class="e" transform="translate(371.7,685) rotate(-83)">ndhD (0.73)</text>
<text class="e" transform="translate(296.7,667) rotate(-70)">ycf1 (0.62)</text>
<text class="e" transform="translate(258.3,645) rotate(-60)">trnR</text>
<text class="e" transform="translate(248,641.7) rotate(-57)">rrn5</text>
<text class="e" transform="translate(238.3,636.7) rotate(-57)">rrn4.5</text>
<text class="e" transform="translate(230,628.3) rotate(-50)">rrn23</text>
<text class="e" transform="translate(206.7,615) rotate(-43)">trnA</text>
<text class="e" transform="translate(196.7,602.7) rotate(-45)">trnI</text>
<text class="e" transform="translate(178.3,590.7) rotate(-45)">rrn16</text>
<text class="e" transform="translate(170,579) rotate(-43)">trnV</text>
<text transform="translate(280,593.3) rotate(-55)">trnN</text>
<text transform="translate(287.3,600) rotate(-55)">trnN</text>
<text class="e" transform="translate(103.3,456) rotate(-19)">ycf2 (0.46)</text>
<text transform="translate(175,480) rotate(-20)">trnL</text>
<text transform="translate(180,490) rotate(-20)">trnL</text>
<text transform="translate(186.7,501.7) rotate(-28)">ndhB *</text>
<text transform="translate(194,515) rotate(-33)">rps7 (0.41)</text>
<text transform="translate(199.3,523) rotate(-33)">rps12</text>
<text transform="translate(152.7,386.7) rotate(-8)">rpl2 (0.52)</text>
<text transform="translate(153.3,396) rotate(-8)">rpl23 (0.55)</text>
<text transform="translate(154,404) rotate(-10)">trnM</text>
<text transform="translate(155,413.3) rotate(-9)">trnI</text>
<text class="e" transform="translate(90,383)">trnH</text>
<text class="e" transform="translate(91,364)">psbA (0.52)</text>
<text transform="translate(151.7,373.3) rotate(-1)">rps19 (0.55)</text>
<text class="e" transform="translate(91.7,341.7) rotate(4)">matK (0.34)</text>
<text class="e" transform="translate(93.3,331.7) rotate(4)">trnK</text>
<text class="e" transform="translate(99.3,298) rotate(12)">rps16 (0.53)</text>
<text class="e" transform="translate(105,280) rotate(14)">trnQ</text>
<text class="e" transform="translate(110.7,264.3) rotate(20)">trnS</text>
<text class="e" transform="translate(126.7,228.3) rotate(27)">atpA (0.52)</text>
<text class="e" transform="translate(137.7,209.3) rotate(33)">atpF (0.57)</text>
<text class="e" transform="translate(145.7,196.7) rotate(34)">atpH (~0.14)</text>
<text class="e" transform="translate(154.3,185) rotate(36)">atpI (0.53)</text>
<text class="e" transform="translate(162.3,173.3) rotate(38)">rps2 (0.65)</text>
<text class="e" transform="translate(186.7,146.7) rotate(43)">rpoC2 (0.57)</text>
<text class="e" transform="translate(225,116.7) rotate(52)">rpoC1 (0.57)</text>
<text class="e" transform="translate(260,95) rotate(58)">rpoB (0.57)</text>
<text class="e" transform="translate(310.7,70) rotate(67)">psbM (0.37)</text>
<text class="e" transform="translate(321.7,68.3) rotate(63)">trnD</text>
<text class="e" transform="translate(332.7,66.7) rotate(64)">trnD</text>
<text class="e" transform="translate(341.7,63.3) rotate(66)">trnY</text>
<text class="e" transform="translate(350.7,61.7) rotate(66)">trnY</text>
<text class="e" transform="translate(361.7,59.3) rotate(68)">trnE</text>
<text class="e" transform="translate(371.7,58.3) rotate(68)">trnE</text>
<text transform="translate(178.3,258.3) rotate(22)">trnR</text>
<text transform="translate(175,266.7) rotate(22)">trnT</text>
<text transform="translate(170.7,275) rotate(24)">trnG</text>
<text transform="translate(166.7,285) rotate(20)">psbI (0.66)</text>
<text transform="translate(163.3,295) rotate(17)">psbK (0.66)</text>
<text transform="translate(315,133.3) rotate(62)">trnC</text>
<text transform="translate(325,131.7) rotate(66)">petN (0.69)</text>
<text transform="translate(365,120) rotate(72)">trnT</text>
<text transform="translate(379.5,118.5) rotate(79)">psbD (0.55)</text>
<text transform="translate(393,118) rotate(85)">psbC (0.55)</text>
<text transform="translate(405,118) rotate(90)">psbZ (0.76)</text>
<text class="e" transform="translate(415,118) rotate(-88)">trnG</text>
</g>
<g id="kb-scale">
<text class="kb" y="175" x="405.5" transform="rotate(-90 405.5 372)">0kb</text>
<text class="kb" y="175" x="405.5" transform="rotate(-80.27 405.5 372)">4kb</text>
<text class="kb" y="175" x="405.5" transform="rotate(-70.54 405.5 372)">8kb</text>
<text class="kb" y="175" x="405.5" transform="rotate(-60.81 405.5 372)">12kb</text>
<text class="kb" y="175" x="405.5" transform="rotate(-51.09 405.5 372)">16kb</text>
<text class="kb" y="175" x="405.5" transform="rotate(-41.36 405.5 372)">20kb</text>
<text class="kb" y="175" x="405.5" transform="rotate(-31.63 405.5 372)">24kb</text>
<text class="kb" y="175" x="405.5" transform="rotate(-21.9 405.5 372)">28kb</text>
<text class="kb" y="175" x="405.5" transform="rotate(-12.17 405.5 372)">32kb</text>
<text class="kb" y="175" x="405.5" transform="rotate(-2.45 405.5 372)">36kb</text>
<text class="kb" y="175" x="405.5" transform="rotate(7.28 405.5 372)">40kb</text>
<text class="kb" y="175" x="405.5" transform="rotate(17 405.5 372)">44kb</text>
<text class="kb" y="175" x="405.5" transform="rotate(26.74 405.5 372)">48kb</text>
<text class="kb" y="175" x="405.5" transform="rotate(36.47 405.5 372)">52kb</text>
<text class="kb" y="175" x="405.5" transform="rotate(46.2 405.5 372)">56kb</text>
<text class="kb" y="175" x="405.5" transform="rotate(55.9 405.5 372)">60kb</text>
<text class="kb" y="175" x="405.5" transform="rotate(65.66 405.5 372)">64kb</text>
<text class="kb" y="175" x="405.5" transform="rotate(75.4 405.5 372)">68kb</text>
<text class="kb" y="175" x="405.5" transform="rotate(85.1 405.5 372)">72kb</text>
<text class="kb" y="569" x="405.5" transform="rotate(-85.2 405.5 372)">76kb</text>
<text class="kb" y="569" x="405.5" transform="rotate(-75.4 405.5 372)">80kb</text>
<text class="kb" y="569" x="405.5" transform="rotate(-65.7 405.5 372)">84kb</text>
<text class="kb" y="569" x="405.5" transform="rotate(-56 405.5 372)">88kb</text>
<text class="kb" y="569" x="405.5" transform="rotate(-46.2 405.5 372)">92kb</text>
<text class="kb" y="569" x="405.5" transform="rotate(-36.5 405.5 372)">96kb</text>
<text class="kb" y="569" x="405.5" transform="rotate(-26.8 405.5 372)">100kb</text>
<text class="kb" y="569" x="405.5" transform="rotate(-17.1 405.5 372)">104kb</text>
<text class="kb" y="569" x="405.5" transform="rotate(-7.3 405.5 372)">108kb</text>
<text class="kb" y="569" x="405.5" transform="rotate(2.4 405.5 372)">112kb</text>
<text class="kb" y="569" x="405.5" transform="rotate(12.1 405.5 372)">116kb</text>
<text class="kb" y="569" x="405.5" transform="rotate(21.9 405.5 372)">120kb</text>
<text class="kb" y="569" x="405.5" transform="rotate(31.6 405.5 372)">124kb</text>
<text class="kb" y="569" x="405.5" transform="rotate(41.3 405.5 372)">128kb</text>
<text class="kb" y="569" x="405.5" transform="rotate(51 405.5 372)">132kb</text>
<text class="kb" y="569" x="405.5" transform="rotate(60.8 405.5 372)">136kb</text>
<text class="kb" y="569" x="405.5" transform="rotate(70.5 405.5 372)">140kb</text>
<text class="kb" y="569" x="405.5" transform="rotate(80.2 405.5 372)">144kb</text>
<text class="kb" y="569" x="405.5" transform="rotate(88 405.5 372)">148kb</text>
</g>
<g id="region-labels">
<text class="reg" transform="translate(439,236) rotate(12.5)">LSC: 85001</text>
<text class="reg" style="fill:#eee" transform="translate(481,493) rotate(-31)">IRA: 25987</text>
<text class="reg" style="fill:#eee" transform="translate(286,446.7) rotate(52)">IRB: 25987</text>
<text class="reg" transform="translate(372,507.5) rotate(13)">SSC: 11045</text>
</g>
<g id="title">
<text class="title" x="325" y="358">Gastrochilus sinensis</text>
<text class="title" x="367" y="393">148,020 bp</text>
<text class="title" x="375" y="429">GC: 37%</text>
</g>
<g id="legend" stroke="#777" stroke-width=".6">
<rect x="3.3" y="582" width="7.7" height="7.7" fill="#2d6138"/><rect x="3.3" y="595" width="7.7" height="7.7" fill="#3d7d10"/><rect x="3.3" y="608" width="7.7" height="7.7" fill="#7d9332"/><rect x="3.3" y="621" width="7.7" height="7.7" fill="#a0bc3a"/><rect x="3.3" y="634" width="7.7" height="7.7" fill="#f0e050"/><rect x="3.3" y="647" width="7.7" height="7.7" fill="#4ca23e"/><rect x="3.3" y="660" width="7.7" height="7.7" fill="#b5302f"/><rect x="3.3" y="673" width="7.7" height="7.7" fill="#d6ac7a"/><rect x="3.3" y="686" width="7.7" height="7.7" fill="#a08050"/><rect x="3.3" y="699" width="7.7" height="7.7" fill="#d96b2b"/><rect x="3.3" y="712" width="7.7" height="7.7" fill="#6fb8a4"/><rect x="3.3" y="725" width="7.7" height="7.7" fill="#1c2e8a"/><rect x="3.3" y="738" width="7.7" height="7.7" fill="#d8332a"/><rect x="3.3" y="751" width="7.7" height="7.7" fill="#7f7f7f"/>
<g stroke="none">
<text class="lgd" x="20.7" y="586">photosystem I</text><text class="lgd" x="20.7" y="599">photosystem II</text><text class="lgd" x="20.7" y="612">cytochrome b/f complex</text><text class="lgd" x="20.7" y="625">ATP synthesis</text><text class="lgd" x="20.7" y="638">NADH dehydrogenase</text><text class="lgd" x="20.7" y="651">RubisCO larg subunit</text><text class="lgd" x="20.7" y="664">RNA polymerase</text><text class="lgd" x="20.7" y="677">small ribosomal protein</text><text class="lgd" x="20.7" y="690">large ribosomal protein</text><text class="lgd" x="20.7" y="703">clpP, matK, infA</text><text class="lgd" x="20.7" y="716">hypothetical reading frame</text><text class="lgd" x="20.7" y="729">transfer RNA</text><text class="lgd" x="20.7" y="742">ribosomal RNA</text><text class="lgd" x="20.7" y="755">other</text>
</g>
</g>
</svg>
